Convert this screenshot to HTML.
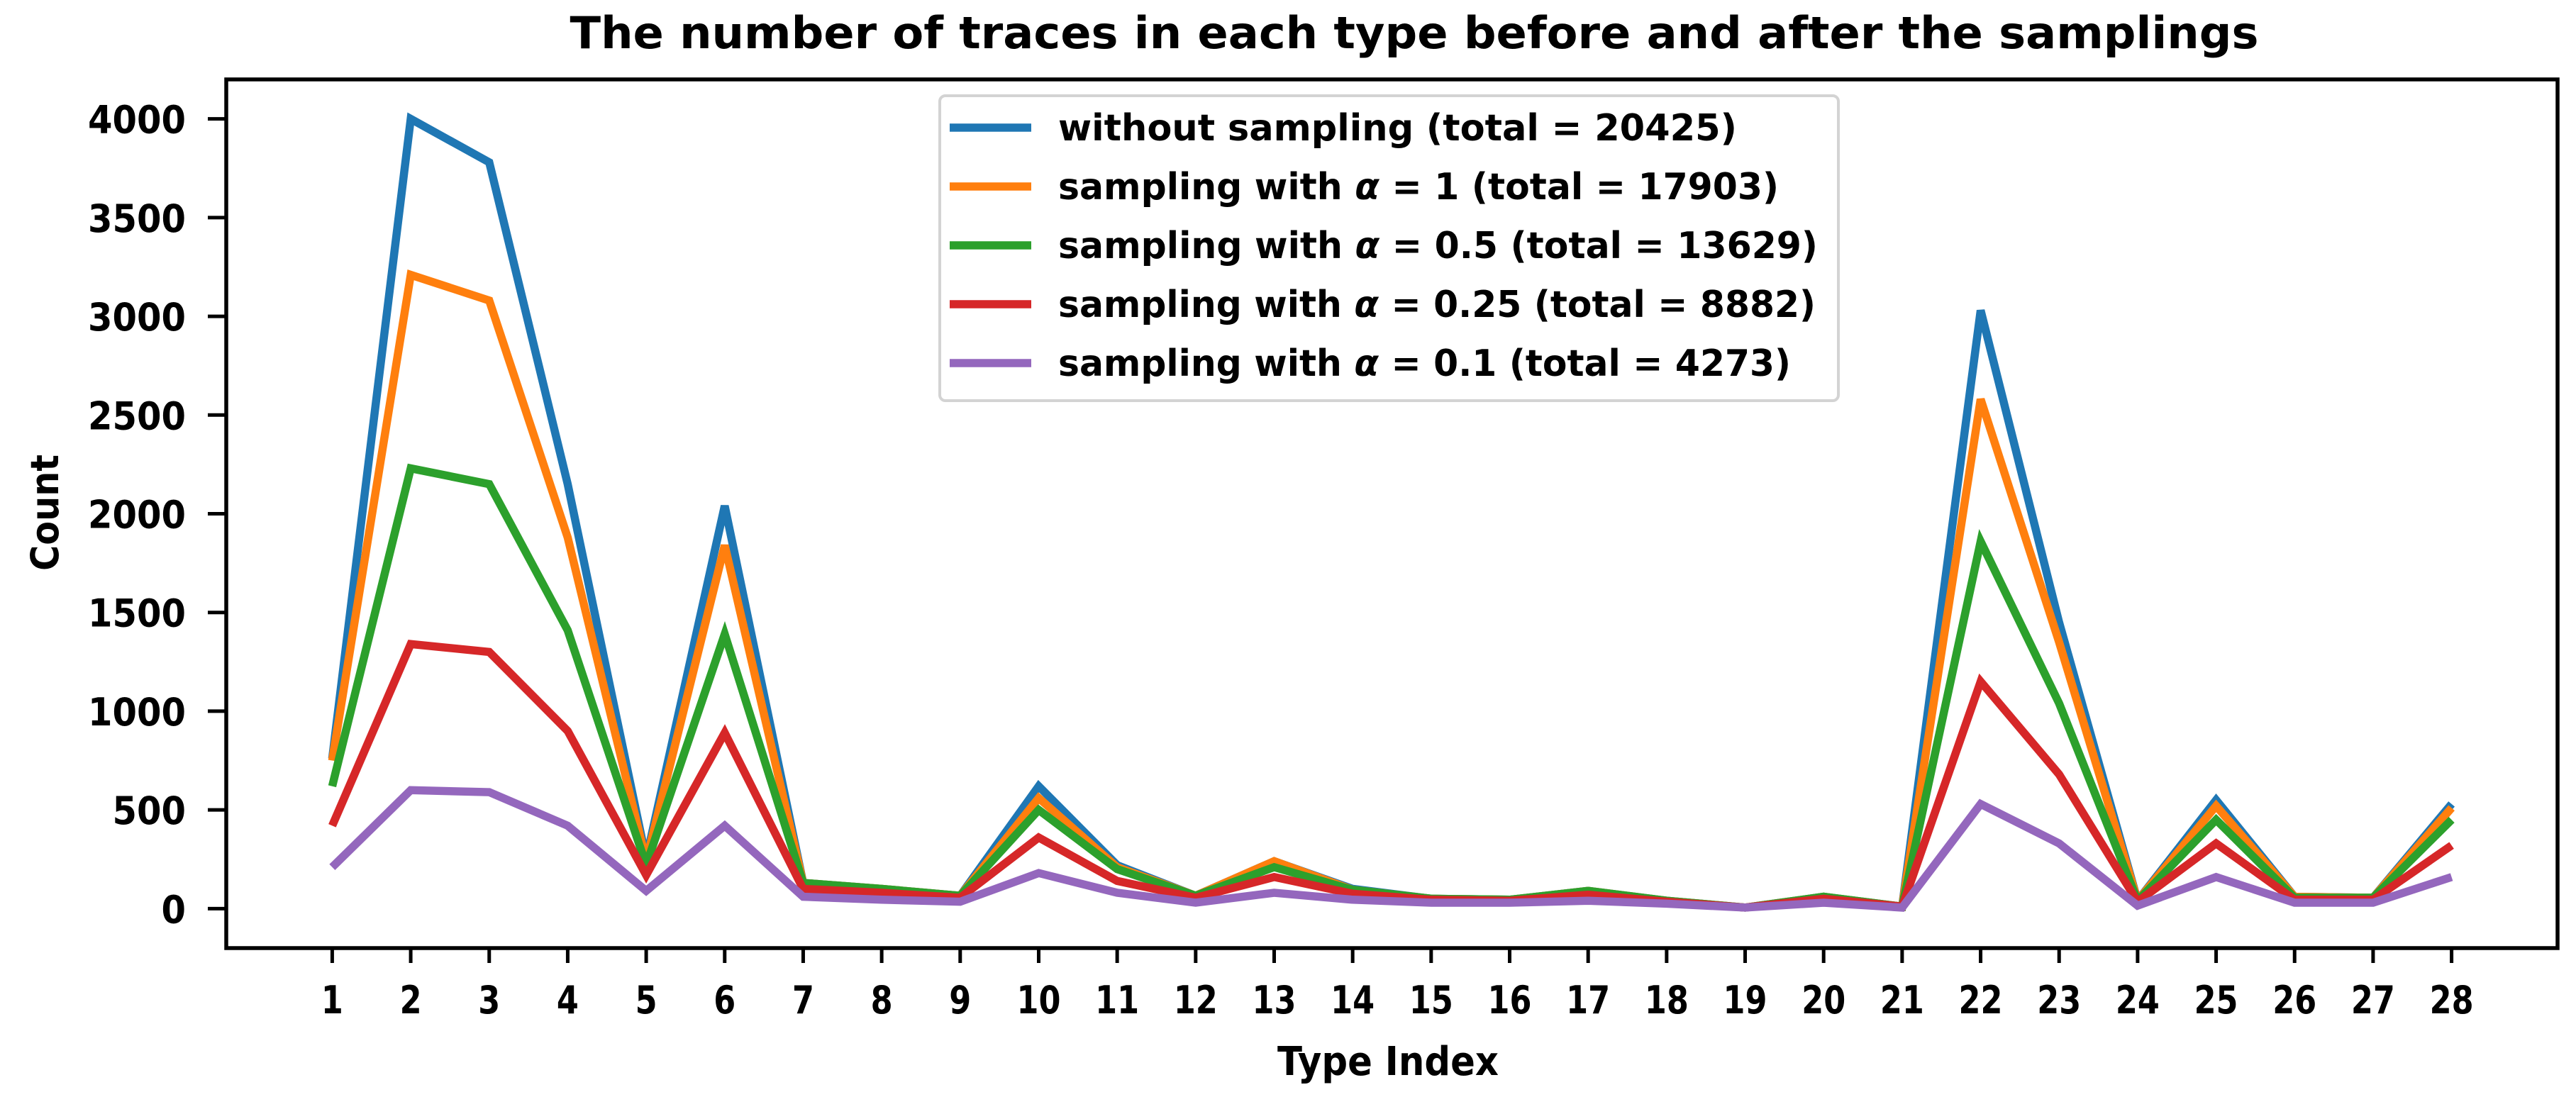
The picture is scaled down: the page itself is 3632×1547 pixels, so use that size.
<!DOCTYPE html>
<html><head><meta charset="utf-8"><style>
html,body{margin:0;padding:0;background:#fff;}
svg{display:block;font-family:"DejaVu Sans","Liberation Sans",sans-serif;font-weight:bold;}
</style></head><body>
<svg id="chart" width="3632" height="1547" viewBox="0 0 3632 1547" xmlns="http://www.w3.org/2000/svg">
<rect x="0" y="0" width="3632" height="1547" fill="#fff"/>
<text x="1994" y="68" text-anchor="middle" font-size="62" textLength="2381" lengthAdjust="spacingAndGlyphs">The number of traces in each type before and after the samplings</text>
<g id="plot"></g>
<text x="1957" y="1516" text-anchor="middle" font-size="56" textLength="312" lengthAdjust="spacingAndGlyphs">Type Index</text>
<text transform="translate(82,723) rotate(-90)" text-anchor="middle" font-size="54" textLength="164" lengthAdjust="spacingAndGlyphs">Count</text>
</svg>
<script>
const categories = [1,2,3,4,5,6,7,8,9,10,11,12,13,14,15,16,17,18,19,20,21,22,23,24,25,26,27,28];
const yTicks = [0,500,1000,1500,2000,2500,3000,3500,4000];
const seriesNames = ["without sampling (total = 20425)","sampling with α = 1 (total = 17903)","sampling with α = 0.5 (total = 13629)","sampling with α = 0.25 (total = 8882)","sampling with α = 0.1 (total = 4273)"];
const seriesColors = ["#1f77b4","#ff7f0e","#2ca02c","#d62728","#9467bd"];
const blueValues = [760,4000,3780,2150,250,2040,130,100,65,620,220,65,240,100,50,45,90,40,5,60,10,3030,1450,40,550,60,55,530];
const orangeValues = [750,3210,3080,1880,240,1840,130,100,65,560,210,65,240,95,50,45,90,40,5,60,10,2580,1350,40,520,60,55,510];
const greenValues = [620,2230,2150,1410,220,1390,130,100,65,500,200,65,210,95,50,45,90,40,5,60,10,1860,1040,40,450,55,55,450];
const redValues = [420,1340,1300,900,170,890,100,80,55,360,140,55,160,75,45,40,70,35,5,50,10,1150,680,35,330,45,45,320];
const purpleValues = [210,600,590,420,90,420,60,45,35,180,80,30,80,45,30,30,40,25,5,30,5,530,330,15,160,30,30,160];
const allSeries = [blueValues,orangeValues,greenValues,redValues,purpleValues];

const NS = "http://www.w3.org/2000/svg";
const L=319,R=3606,T=112,B=1337;
const xMin=1-1.35, xMax=28+1.35, yMin=-200, yMax=4200;
function xs(v){return L+(v-xMin)/(xMax-xMin)*(R-L);}
function ys(v){return B-(v-yMin)/(yMax-yMin)*(B-T);}
const g=document.getElementById('plot');
function mk(tag,attrs,parent){const e=document.createElementNS(NS,tag);for(const k in attrs)e.setAttribute(k,attrs[k]);(parent||g).appendChild(e);return e;}

allSeries.forEach((vals,si)=>{
  const pts=vals.map((v,i)=>xs(categories[i]).toFixed(1)+","+ys(v).toFixed(1)).join(" ");
  const pl=mk('polyline',{points:pts,fill:'none',stroke:seriesColors[si],'stroke-width':11.5,'stroke-linejoin':'miter'});
  
  
});

const frame=mk('rect',{x:L,y:T,width:R-L,height:B-T,fill:'none',stroke:'#000','stroke-width':5.5});



categories.forEach(c=>{
  const x=xs(c);
  const t=mk('line',{x1:x,y1:B,x2:x,y2:B+21,stroke:'#000','stroke-width':5});
  
  
  const s=String(c);
  const lb=mk('text',{x:x,y:1429,'text-anchor':'middle','font-size':54,textLength:31*s.length,lengthAdjust:'spacingAndGlyphs'});
  lb.textContent=s;
  
  
});
yTicks.forEach(v=>{
  const y=ys(v);
  const t=mk('line',{x1:L-26,y1:y,x2:L,y2:y,stroke:'#000','stroke-width':5});
  
  
  const s=String(v);
  const lb=mk('text',{x:262,y:y+20,'text-anchor':'end','font-size':54,textLength:34.5*s.length,lengthAdjust:'spacingAndGlyphs'});
  lb.textContent=s;
  
  
});

const legendWidths=[957,1016,1071,1068,1033];
const lg=mk('g',{});


mk('rect',{x:1325,y:135,width:1267,height:430,rx:8,fill:'#fff',stroke:'#d3d3d3','stroke-width':4},lg);
seriesNames.forEach((name,i)=>{
  const y=180+i*83;
  const h=mk('line',{x1:1339,y1:y,x2:1454,y2:y,stroke:seriesColors[i],'stroke-width':11.5},lg);
  
  
  const t=mk('text',{x:1492,y:y+18,'font-size':52,textLength:legendWidths[i],lengthAdjust:'spacingAndGlyphs'},lg);
  
  
  const idx=name.indexOf('α');
  if(idx<0){t.textContent=name;}
  else{
    t.appendChild(document.createTextNode(name.slice(0,idx)));
    const a=document.createElementNS(NS,'tspan');a.setAttribute('font-style','italic');a.textContent='α';t.appendChild(a);
    t.appendChild(document.createTextNode(name.slice(idx+1)));
  }
});
</script>
</body></html>
